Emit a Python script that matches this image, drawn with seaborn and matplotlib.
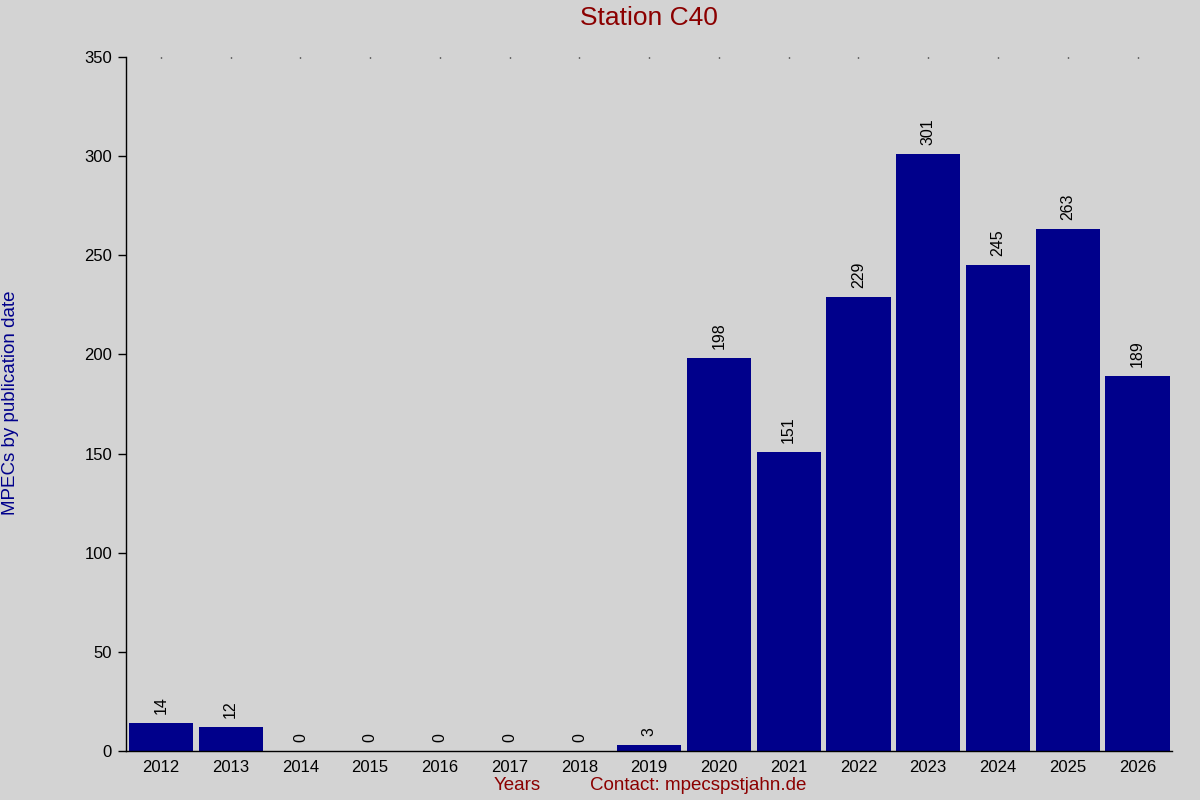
import matplotlib
matplotlib.use("Agg")
import matplotlib.pyplot as plt
import seaborn as sns
import pandas as pd

years = ["2012", "2013", "2014", "2015", "2016", "2017", "2018", "2019",
         "2020", "2021", "2022", "2023", "2024", "2025", "2026"]
counts = [14, 12, 0, 0, 0, 0, 0, 3, 198, 151, 229, 301, 245, 263, 189]
yticks = [0, 50, 100, 150, 200, 250, 300, 350]

sns.set_theme(style="white")
plt.rcParams['font.family'] = ['Liberation Sans', 'DejaVu Sans']

bg = "#d3d3d3"
fig = plt.figure(figsize=(12, 8), dpi=100, facecolor=bg)
ax = fig.add_axes([0.105, 0.061, 0.872, 0.868])
ax.set_facecolor(bg)

df = pd.DataFrame({"year": years, "count": counts})
sns.barplot(data=df, x="year", y="count", color="#00008b", saturation=1,
            width=0.92, ax=ax, edgecolor="none")

for i, v in enumerate(counts):
    ax.text(i, v + 4.5, str(v), rotation=90, ha="center", va="bottom",
            fontsize=11.5, color="black")

ax.set_xlim(-0.5, len(years) - 0.5)
ax.set_ylim(0, 350)
ax.set_yticks(yticks)
ax.tick_params(axis="y", direction="out", length=6, width=1, color="black",
               labelsize=12, labelcolor="black", left=True, pad=4)
ax.tick_params(axis="x", length=0, labelsize=12, labelcolor="black", pad=6)
for s in ["top", "right"]:
    ax.spines[s].set_visible(False)
for s in ["left", "bottom"]:
    ax.spines[s].set_color("black")
    ax.spines[s].set_linewidth(1)
ax.set_xlabel("")
ax.set_ylabel("")

sec = ax.secondary_xaxis("top")
sec.set_xticks(range(len(years)))
sec.tick_params(length=1, width=1, color="black", labeltop=False, direction="in")
sec.spines["top"].set_visible(False)

fig.text(0.541, 0.977, "Station C40", ha="center", va="center",
         fontsize=19, color="#8b0000")
fig.text(0.009, 0.497, "MPECs by publication date", rotation=90,
         ha="center", va="center", fontsize=13.5, color="#00008b")
fig.text(0.431, 0.018, "Years", ha="center", va="center",
         fontsize=13.5, color="#8b0000")
fig.text(0.582, 0.018, "Contact: mpecspstjahn.de", ha="center", va="center",
         fontsize=13.5, color="#8b0000")

fig.savefig("out.png", dpi=100, facecolor=bg)
